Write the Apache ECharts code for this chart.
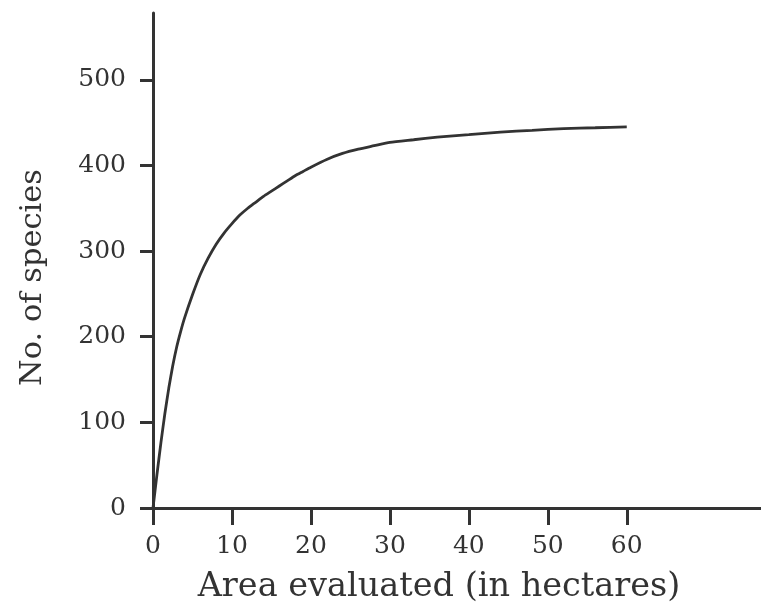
<!DOCTYPE html>
<html>
<head>
<meta charset="utf-8">
<script src="https://cdn.jsdelivr.net/npm/echarts@6/dist/echarts.min.js"></script>
<style>
html,body{margin:0;padding:0;background:#fff;}
#chart{width:761px;height:614px;}
</style>
</head>
<body>
<div id="chart"></div>
<script>
const areaX = [0, 0.5, 1, 1.5, 2, 2.5, 3, 3.5, 4, 5, 6, 7, 8, 9, 10, 11, 12, 13, 14, 15, 16, 17, 18, 19, 20, 22, 24, 26, 28, 30, 33, 36, 40, 44, 48, 52, 56, 60];
const speciesY = [0, 39, 76, 110, 140, 166, 188, 206, 222, 249, 273, 292, 308, 321, 332, 342, 350, 357, 364, 370, 376, 382, 388, 393, 398, 407, 414, 419, 423, 427, 430, 433, 436, 439, 441, 443, 444, 445];
const xTicks = [0, 10, 20, 30, 40, 50, 60];
const yTicks = [0, 100, 200, 300, 400, 500];

const chart = echarts.init(document.getElementById('chart'), null, {renderer: 'canvas'});
const font = 'DejaVu Serif';
const ink = '#333333';
chart.setOption({
  animation: false,
  backgroundColor: '#ffffff',
  grid: {left: 153, right: 0, top: 13, bottom: 106, containLabel: false},
  xAxis: {
    type: 'value', min: 0, max: 77,
    name: 'Area evaluated (in hectares)',
    nameLocation: 'middle', nameGap: 62,
    nameTextStyle: {fontFamily: font, fontSize: 33.5, color: ink, padding: [0, 36, 0, 0]},
    axisLine: {show: true, onZero: false, lineStyle: {color: ink, width: 3}},
    axisTick: {show: true, length: 17, lineStyle: {color: ink, width: 3}, customValues: xTicks},
    axisLabel: {fontFamily: font, fontSize: 25, color: ink, margin: 26, customValues: xTicks},
    splitLine: {show: false}
  },
  yAxis: {
    type: 'value', min: 0, max: 578,
    name: 'No. of species',
    nameLocation: 'middle', nameGap: 104, nameRotate: 90,
    nameTextStyle: {fontFamily: font, fontSize: 30.5, color: ink, padding: [0, 34, 0, 0]},
    axisLine: {show: true, onZero: false, lineStyle: {color: ink, width: 3}},
    axisTick: {show: true, length: 13, lineStyle: {color: ink, width: 3}, customValues: yTicks},
    axisLabel: {fontFamily: font, fontSize: 25, color: ink, margin: 27, customValues: yTicks},
    splitLine: {show: false}
  },
  series: [{
    type: 'line',
    data: areaX.map((x, i) => [x, speciesY[i]]),
    smooth: 0.2,
    showSymbol: false,
    lineStyle: {color: ink, width: 2.8},
    z: 1
  }]
});
</script>
</body>
</html>
